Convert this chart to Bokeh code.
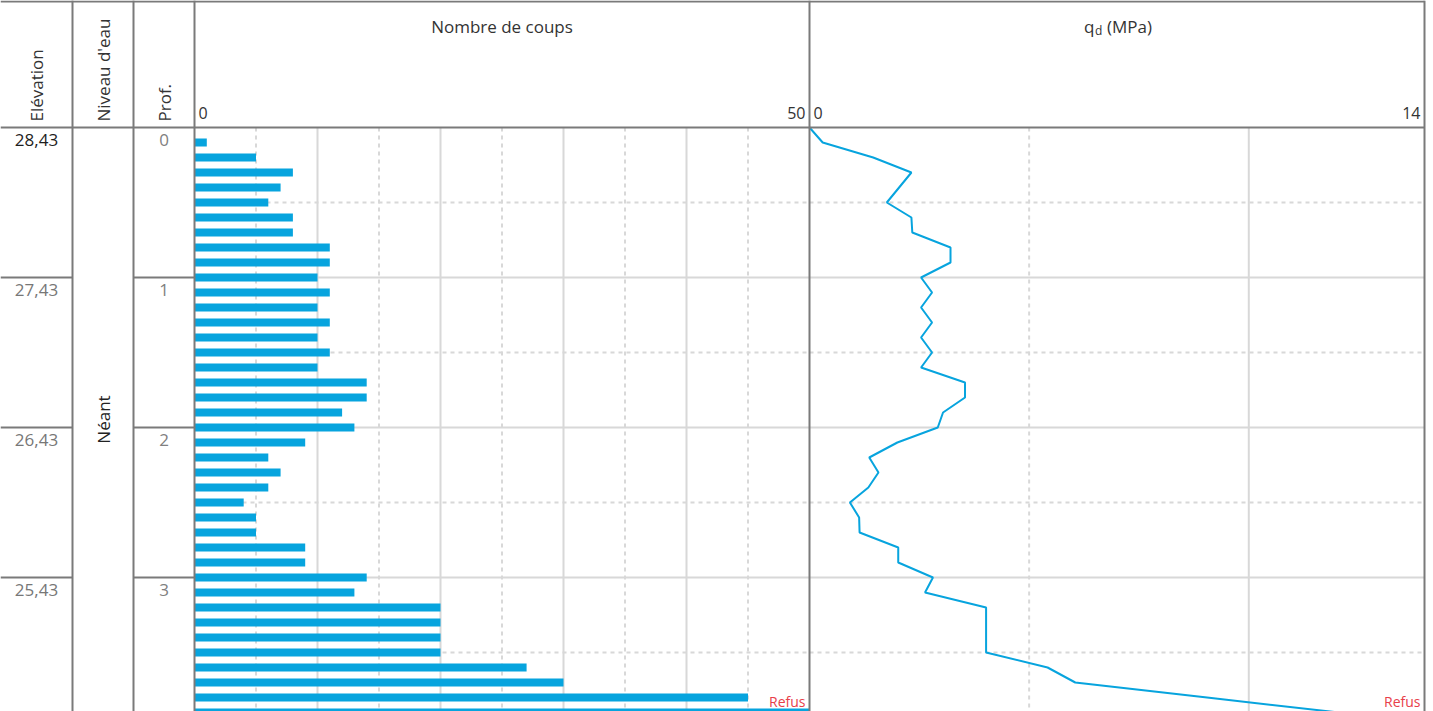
from math import pi
from bokeh.plotting import figure
from bokeh.models import Range1d
from bokeh.core.properties import value
from bokeh.embed import file_html
from bokeh.resources import INLINE

# ---------------- data ----------------
bar_depths = [0.1, 0.2, 0.3, 0.4, 0.5, 0.6, 0.7, 0.8, 0.9, 1.0,
              1.1, 1.2, 1.3, 1.4, 1.5, 1.6, 1.7, 1.8, 1.9, 2.0,
              2.1, 2.2, 2.3, 2.4, 2.5, 2.6, 2.7, 2.8, 2.9, 3.0,
              3.1, 3.2, 3.3, 3.4, 3.5, 3.6, 3.7, 3.8, 3.9]
blows = [1, 5, 8, 7, 6, 8, 8, 11, 11, 10,
         11, 10, 11, 10, 11, 10, 14, 14, 12, 13,
         9, 6, 7, 6, 4, 5, 5, 9, 9, 14,
         13, 20, 20, 20, 20, 27, 30, 45, 50]

qd_depths = [0.0, 0.1, 0.2, 0.3, 0.4, 0.5, 0.6, 0.7, 0.8, 0.9, 1.0,
             1.1, 1.2, 1.3, 1.4, 1.5, 1.6, 1.7, 1.8, 1.9, 2.0,
             2.1, 2.2, 2.3, 2.4, 2.5, 2.6, 2.7, 2.8, 2.9, 3.0,
             3.1, 3.2, 3.3, 3.4, 3.5, 3.6, 3.7, 3.8, 3.9]
qd_values = [0.0, 0.30, 1.45, 2.32, 2.04, 1.76, 2.32, 2.34, 3.21, 3.21, 2.54,
             2.79, 2.54, 2.79, 2.54, 2.79, 2.54, 3.54, 3.54, 3.04, 2.92,
             2.00, 1.36, 1.57, 1.34, 0.92, 1.13, 1.14, 2.02, 2.02, 2.81,
             2.63, 4.02, 4.02, 4.02, 4.02, 5.42, 6.05, 9.05, 12.05]

meter_depths = [0, 1, 2, 3]
elevations = ["28,43", "27,43", "26,43", "25,43"]
elev_colors = ["#1e1e1e", "#777777", "#777777", "#777777"]
prof_labels = ["0", "1", "2", "3"]
half_depths = [0.5, 1.5, 2.5, 3.5]
full_depths = [1, 2, 3]

blows_range = [0, 50]
blows_major = [10, 20, 30, 40]
blows_minor = [5, 15, 25, 35, 45]
qd_range = [0, 14]
qd_major = [10]
qd_minor = [5]
refus_depth = 3.9
water_level = "Néant"

headers = ["Elévation", "Niveau d'eau", "Prof."]
title_blows = "Nombre de coups"

# ---------------- layout ----------------
W, H = 1433, 711
HEADER = 127
PX_PER_M = 150
COLS = [0, 72, 133, 194, 809, 1424]
FONT = value("Open Sans")
BLUE = "#07A4DE"
DARK = "#7a7a7a"
GRID = "#d8d8d8"
RED = "#E8404A"
SHIFT = -7  # baseline correction of the svg text renderer

y_bottom = (H - HEADER) / PX_PER_M
y_top = -HEADER / PX_PER_M


def dy(px):
    return (px - HEADER) / PX_PER_M


def extra(x0px, x1px, lo, hi):
    k = (hi - lo) / (x1px - x0px)
    return Range1d(lo - x0px * k, lo + (W - x0px) * k)


p = figure(width=W, height=H, output_backend="svg", toolbar_location=None,
           x_axis_location=None, y_axis_location=None, min_border=0,
           x_range=Range1d(0, W), y_range=Range1d(y_bottom, y_top))
p.extra_x_ranges = {
    "coups": extra(COLS[3], COLS[4], blows_range[0], blows_range[1]),
    "qd": extra(COLS[4], COLS[5], qd_range[0], qd_range[1]),
}
p.outline_line_color = None
p.xgrid.visible = False
p.ygrid.visible = False
p.background_fill_color = "white"
p.border_fill_color = "white"

# ---------------- grid ----------------
for rn, major, minor, lo, hi in (("coups", blows_major, blows_minor, blows_range[0], blows_range[1]),
                                 ("qd", qd_major, qd_minor, qd_range[0], qd_range[1])):
    p.segment(x0=major, x1=major, y0=[0] * len(major), y1=[y_bottom] * len(major),
              line_color=GRID, line_width=2, x_range_name=rn)
    p.segment(x0=minor, x1=minor, y0=[0] * len(minor), y1=[y_bottom] * len(minor),
              line_color=GRID, line_width=2, line_dash="4 4", x_range_name=rn)
    p.segment(x0=[lo] * len(full_depths), x1=[hi] * len(full_depths), y0=full_depths, y1=full_depths,
              line_color=GRID, line_width=2, x_range_name=rn)
    p.segment(x0=[lo] * len(half_depths), x1=[hi] * len(half_depths), y0=half_depths, y1=half_depths,
              line_color=GRID, line_width=2, line_dash="4 4", x_range_name=rn)

# ---------------- data marks ----------------
p.hbar(y=bar_depths, left=0, right=blows, height=0.053, fill_color=BLUE,
       line_color=None, x_range_name="coups")
p.line(x=qd_values, y=qd_depths, line_color=BLUE, line_width=2, x_range_name="qd")

# ---------------- borders ----------------
p.segment(x0=[COLS[0], COLS[0]], x1=[COLS[5], COLS[5]], y0=[dy(1), 0], y1=[dy(1), 0],
          line_color=DARK, line_width=2)
vx = COLS[1:]
p.segment(x0=vx, x1=vx, y0=[dy(0)] * len(vx), y1=[y_bottom] * len(vx),
          line_color=DARK, line_width=2)
p.segment(x0=[COLS[0]] * 3 + [COLS[2]] * 3, x1=[COLS[1]] * 3 + [COLS[3]] * 3,
          y0=full_depths * 2, y1=full_depths * 2, line_color=DARK, line_width=2)

# ---------------- texts ----------------
centers = [(COLS[i] + COLS[i + 1]) / 2 for i in range(3)]
p.text(x=centers, y=[0, 0, 0], text=headers, angle=pi / 2, y_offset=-6,
       text_align="left", text_baseline="middle", text_font=FONT,
       text_font_size=value("17px"), text_color="#333333")

p.text(x=[centers[0]] * 4, y=meter_depths, text=elevations, y_offset=19 + SHIFT,
       text_align="center", text_baseline="alphabetic", text_font=FONT,
       text_font_size=value("17px"), text_color=elev_colors)
p.text(x=[centers[2]] * 4, y=meter_depths, text=prof_labels, y_offset=19 + SHIFT,
       text_align="center", text_baseline="alphabetic", text_font=FONT,
       text_font_size=value("17px"), text_color="#808080")
p.text(x=[centers[1]], y=[y_bottom / 2], text=[water_level], angle=pi / 2,
       text_align="center", text_baseline="middle", text_font=FONT,
       text_font_size=value("17px"), text_color="#222222")

# titles
p.text(x=[sum(blows_range) / 2], y=[y_top], text=[title_blows], y_offset=33 + SHIFT,
       text_align="center", text_baseline="alphabetic", text_font=FONT,
       text_font_size=value("17px"), text_color="#333333", x_range_name="coups")
qmid = sum(qd_range) / 2
p.text(x=[qmid], y=[y_top], text=["q"], y_offset=33 + SHIFT, x_offset=-22.5,
       text_align="right", text_baseline="alphabetic", text_font=FONT,
       text_font_size=value("17px"), text_color="#333333", x_range_name="qd")
p.text(x=[qmid], y=[y_top], text=["d"], y_offset=37 + SHIFT, x_offset=-22,
       text_align="left", text_baseline="alphabetic", text_font=FONT,
       text_font_size=value("12px"), text_color="#333333", x_range_name="qd")
p.text(x=[qmid], y=[y_top], text=["(MPa)"], y_offset=33 + SHIFT, x_offset=-10,
       text_align="left", text_baseline="alphabetic", text_font=FONT,
       text_font_size=value("17px"), text_color="#333333", x_range_name="qd")

# axis end labels
for rn, lo, hi in (("coups", blows_range[0], blows_range[1]), ("qd", qd_range[0], qd_range[1])):
    p.text(x=[lo], y=[0], text=[str(lo)], x_offset=4, y_offset=-8 + SHIFT,
           text_align="left", text_baseline="alphabetic", text_font=FONT,
           text_font_size=value("16px"), text_color="#333333", x_range_name=rn)
    p.text(x=[hi], y=[0], text=[str(hi)], x_offset=-4, y_offset=-8 + SHIFT,
           text_align="right", text_baseline="alphabetic", text_font=FONT,
           text_font_size=value("16px"), text_color="#333333", x_range_name=rn)
    p.text(x=[hi], y=[refus_depth], text=["Refus"], x_offset=-4, y_offset=-4 + SHIFT,
           text_align="right", text_baseline="alphabetic", text_font=FONT,
           text_font_size=value("14px"), text_color=RED, x_range_name=rn)

open("out.html", "w").write(file_html(p, INLINE))
